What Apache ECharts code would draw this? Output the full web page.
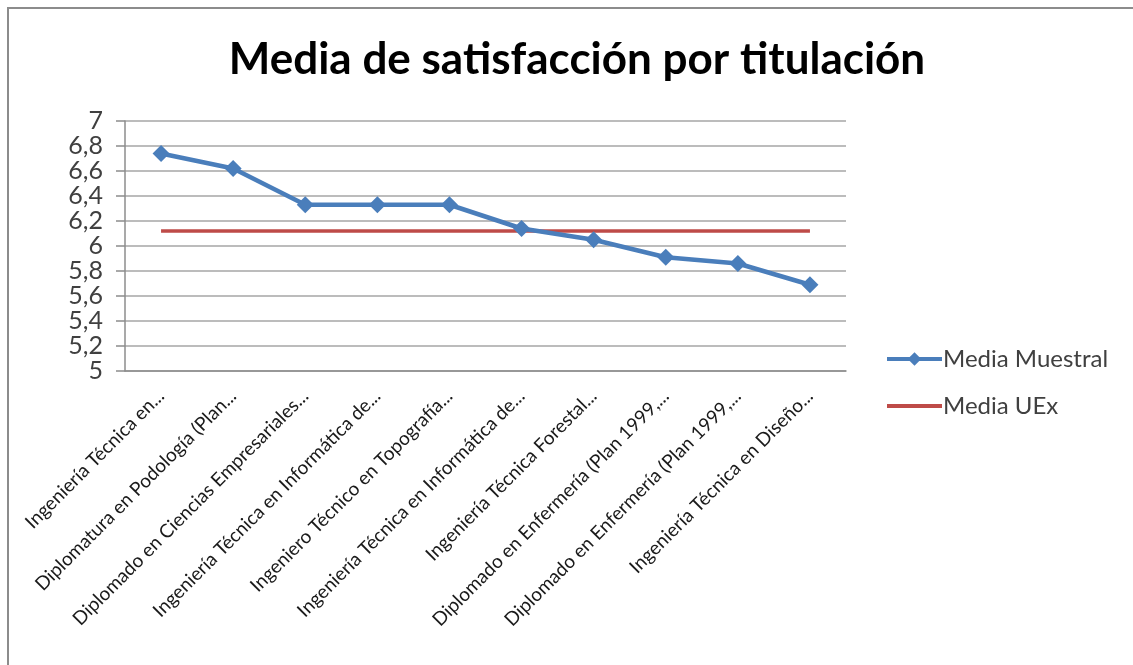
<!DOCTYPE html>
<html>
<head>
<meta charset="utf-8">
<script src="https://cdn.jsdelivr.net/npm/echarts@6/dist/echarts.min.js"></script>
<style>
  html, body { margin: 0; padding: 0; background: #fff; }
  #chart { width: 1133px; height: 665px; }
</style>
</head>
<body>
<div id="chart"></div>
<script>
// titulaciones (etiquetas tal como aparecen recortadas)
var titulaciones = [
  'Ingeniería Técnica en...',
  'Diplomatura en Podología (Plan...',
  'Diplomado en Ciencias Empresariales...',
  'Ingeniería Técnica en Informática de...',
  'Ingeniero Técnico en Topografía...',
  'Ingeniería Técnica en Informática de...',
  'Ingeniería Técnica Forestal...',
  'Diplomado en Enfermería (Plan 1999,...',
  'Diplomado en Enfermería (Plan 1999,...',
  'Ingeniería Técnica en Diseño...'
];
var mediaMuestral = [6.74, 6.62, 6.33, 6.33, 6.33, 6.14, 6.05, 5.91, 5.86, 5.69];
var mediaUEx = [6.12, 6.12, 6.12, 6.12, 6.12, 6.12, 6.12, 6.12, 6.12, 6.12];
var yMin = 5, yMax = 7, yStep = 0.2;

var chart = echarts.init(document.getElementById('chart'));

chart.setOption({
  animation: false,
  backgroundColor: '#fff',
  title: {
    text: 'Media de satisfacción por titulación',
    left: 572,
    top: 33,
    textAlign: 'center',
    textStyle: { fontFamily: 'Lato', fontWeight: 'bold', fontSize: 44, color: '#000' }
  },
  graphic: [{
    type: 'rect',
    shape: { x: 8, y: 8, width: 1300, height: 900 },
    style: { fill: 'none', stroke: '#8c8c8c', lineWidth: 2 },
    silent: true
  }],
  legend: {
    orient: 'vertical',
    left: 885,
    top: 347,
    padding: 0,
    itemWidth: 55,
    itemHeight: 17,
    itemGap: 23,
    textStyle: { fontFamily: 'Lato', fontSize: 24, color: '#404040', padding: [0, 0, 0, -4] },
    data: [
      { name: 'Media Muestral', lineStyle: { width: 4 } },
      { name: 'Media UEx', lineStyle: { width: 4 }, itemStyle: { opacity: 0 } }
    ]
  },
  grid: { left: 125, right: 287, top: 121, bottom: 294 },
  xAxis: {
    type: 'category',
    data: titulaciones,
    boundaryGap: true,
    axisLine: { lineStyle: { color: '#8c8c8c', width: 1.5 } },
    axisTick: { length: 7, lineStyle: { color: '#8c8c8c', width: 1.5 } },
    axisLabel: {
      interval: 0,
      rotate: 45,
      margin: 22,
      fontFamily: 'Lato',
      fontSize: 19,
      color: '#1a1a1a'
    }
  },
  yAxis: {
    type: 'value',
    min: yMin,
    max: yMax,
    interval: yStep,
    axisLine: { show: true, lineStyle: { color: '#8c8c8c', width: 1.5 } },
    axisTick: { show: true, length: 9, lineStyle: { color: '#8c8c8c', width: 1.5 } },
    splitLine: { lineStyle: { color: '#a6a6a6', width: 1.5 } },
    axisLabel: {
      margin: 22,
      fontFamily: 'Lato',
      fontSize: 25,
      color: '#404040',
      formatter: function (v) { return String(+v.toFixed(1)).replace('.', ','); }
    }
  },
  series: [
    {
      name: 'Media Muestral',
      type: 'line',
      data: mediaMuestral,
      symbol: 'diamond',
      symbolSize: 17,
      color: '#4a7ebb',
      lineStyle: { width: 4.5, color: '#4a7ebb' },
      itemStyle: { color: '#4a7ebb' },
      z: 3
    },
    {
      name: 'Media UEx',
      type: 'line',
      data: mediaUEx,
      symbol: 'none',
      color: '#be4b48',
      lineStyle: { width: 3.5, color: '#be4b48' },
      z: 2
    }
  ]
});
</script>
</body>
</html>
